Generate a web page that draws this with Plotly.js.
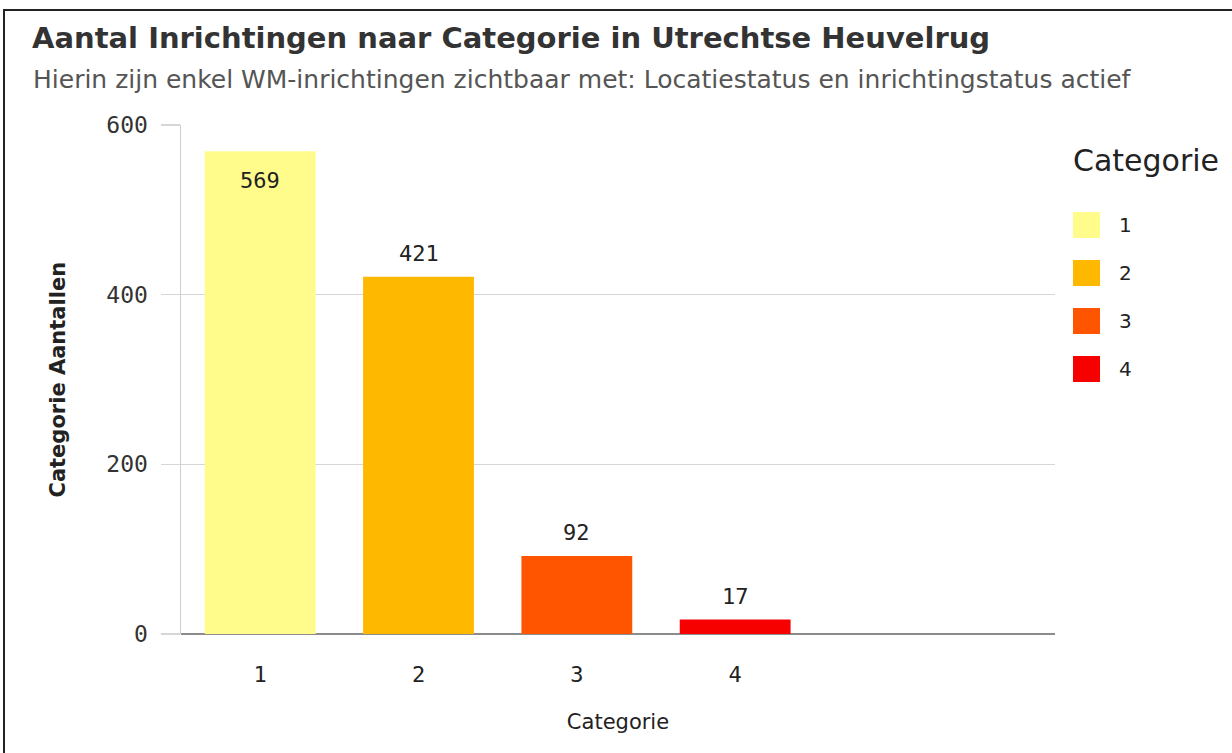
<!DOCTYPE html>
<html>
<head>
<meta charset="utf-8">
<script src="https://cdn.plot.ly/plotly-3.0.1.min.js"></script>
<style>
  html, body { margin: 0; padding: 0; background: #fff; }
  #wrap { position: relative; width: 1232px; height: 753px; overflow: hidden; }
  #chart { position: absolute; left: 0; top: 0; width: 1232px; height: 753px; }
  #frame { position: absolute; left: 3px; top: 9px; width: 1240px; height: 760px;
           border-top: 2px solid #222; border-left: 2px solid #222; pointer-events: none; }
</style>
</head>
<body>
<div id="wrap">
  <div id="chart"></div>
  <div id="frame"></div>
</div>
<script>
// ---- data ----
const categories = ['1', '2', '3', '4'];
const counts = [569, 421, 92, 17];
const barColors = ['#FFFC8C', '#FFB800', '#FF5500', '#F60000'];
const yTicks = [0, 200, 400, 600];

const chartTitle = 'Aantal Inrichtingen naar Categorie in Utrechtse Heuvelrug';
const chartSubtitle = 'Hierin zijn enkel WM-inrichtingen zichtbaar met: Locatiestatus en inrichtingstatus actief';
const xTitle = 'Categorie';
const yTitle = 'Categorie Aantallen';
const legendTitle = 'Categorie';

// ---- layout geometry ----
const W = 1232, H = 753;
const M = { l: 181, r: 177, t: 125, b: 119 };
const PW = W - M.l - M.r, PH = H - M.t - M.b;
const px2x = px => (px - M.l) / PW;
const py2y = py => (H - M.b - py) / PH;

const xs = categories.map(Number);
const monoFont = 'DejaVu Sans Mono, monospace';
const sansFont = 'DejaVu Sans, sans-serif';

const trace = {
  type: 'bar',
  x: xs,
  y: counts,
  width: 0.7,
  marker: { color: barColors, line: { width: 0 } },
  hoverinfo: 'x+y',
  showlegend: false
};

const annotations = [];
// value labels
counts.forEach((v, i) => {
  const inside = i === 0;
  annotations.push({
    x: xs[i], y: v, xref: 'x', yref: 'y',
    text: String(v), showarrow: false,
    yanchor: 'middle', yshift: inside ? -29 : 23,
    font: { family: monoFont, size: 22, color: '#222' }
  });
});
// subtitle
annotations.push({
  xref: 'paper', yref: 'paper', x: px2x(31), y: py2y(80),
  xanchor: 'left', yanchor: 'middle', showarrow: false,
  text: chartSubtitle,
  font: { family: sansFont, size: 25, color: '#555' }
});
// legend (manual, built from categories + colors)
annotations.push({
  xref: 'paper', yref: 'paper', x: px2x(1071), y: py2y(160),
  xanchor: 'left', yanchor: 'middle', showarrow: false,
  text: legendTitle,
  font: { family: sansFont, size: 30, color: '#222' }
});
const shapes = [];
categories.forEach((c, i) => {
  const cy = 225 + i * 48;
  shapes.push({
    type: 'rect', xref: 'paper', yref: 'paper',
    x0: px2x(1073), x1: px2x(1100), y0: py2y(cy + 13), y1: py2y(cy - 13),
    fillcolor: barColors[i], line: { width: 0 }
  });
  annotations.push({
    xref: 'paper', yref: 'paper', x: px2x(1117), y: py2y(cy),
    xanchor: 'left', yanchor: 'middle', showarrow: false,
    text: c,
    font: { family: sansFont, size: 20, color: '#222' }
  });
});
// y-axis title
annotations.push({
  xref: 'paper', yref: 'paper', x: px2x(57), y: 0.5,
  xanchor: 'center', yanchor: 'middle', showarrow: false,
  textangle: -90, text: '<b>' + yTitle + '</b>',
  font: { family: sansFont, size: 21, color: '#222' }
});

const layout = {
  width: W, height: H,
  margin: M,
  paper_bgcolor: '#fff',
  plot_bgcolor: '#fff',
  showlegend: false,
  title: {
    text: '<b>' + chartTitle + '</b>',
    xref: 'container', yref: 'container',
    x: 32 / W, xanchor: 'left',
    y: 1 - 38 / H, yanchor: 'middle',
    font: { family: sansFont, size: 29, color: '#333' }
  },
  xaxis: {
    range: [0.5, 6.02],
    tickmode: 'array', tickvals: xs, ticktext: categories,
    showgrid: false, zeroline: false, showline: false,
    ticks: '', ticklabelstandoff: 25,
    tickfont: { family: monoFont, size: 22, color: '#222' },
    title: { text: xTitle, standoff: 28, font: { family: sansFont, size: 21, color: '#222' } }
  },
  yaxis: {
    range: [0, 600],
    tickmode: 'array', tickvals: yTicks,
    showgrid: true, gridcolor: '#d6d6d6', gridwidth: 1.5,
    zeroline: true, zerolinecolor: '#8c8c8c', zerolinewidth: 2,
    showline: true, linecolor: '#cfcfcf', linewidth: 1.5,
    ticks: 'outside', ticklen: 19, tickcolor: '#d6d6d6', tickwidth: 1.5,
    ticklabelstandoff: 8,
    tickfont: { family: monoFont, size: 23, color: '#333' }
  },
  annotations: annotations,
  shapes: shapes
};

Plotly.newPlot('chart', [trace], layout, { displayModeBar: false, staticPlot: true });
</script>
</body>
</html>
